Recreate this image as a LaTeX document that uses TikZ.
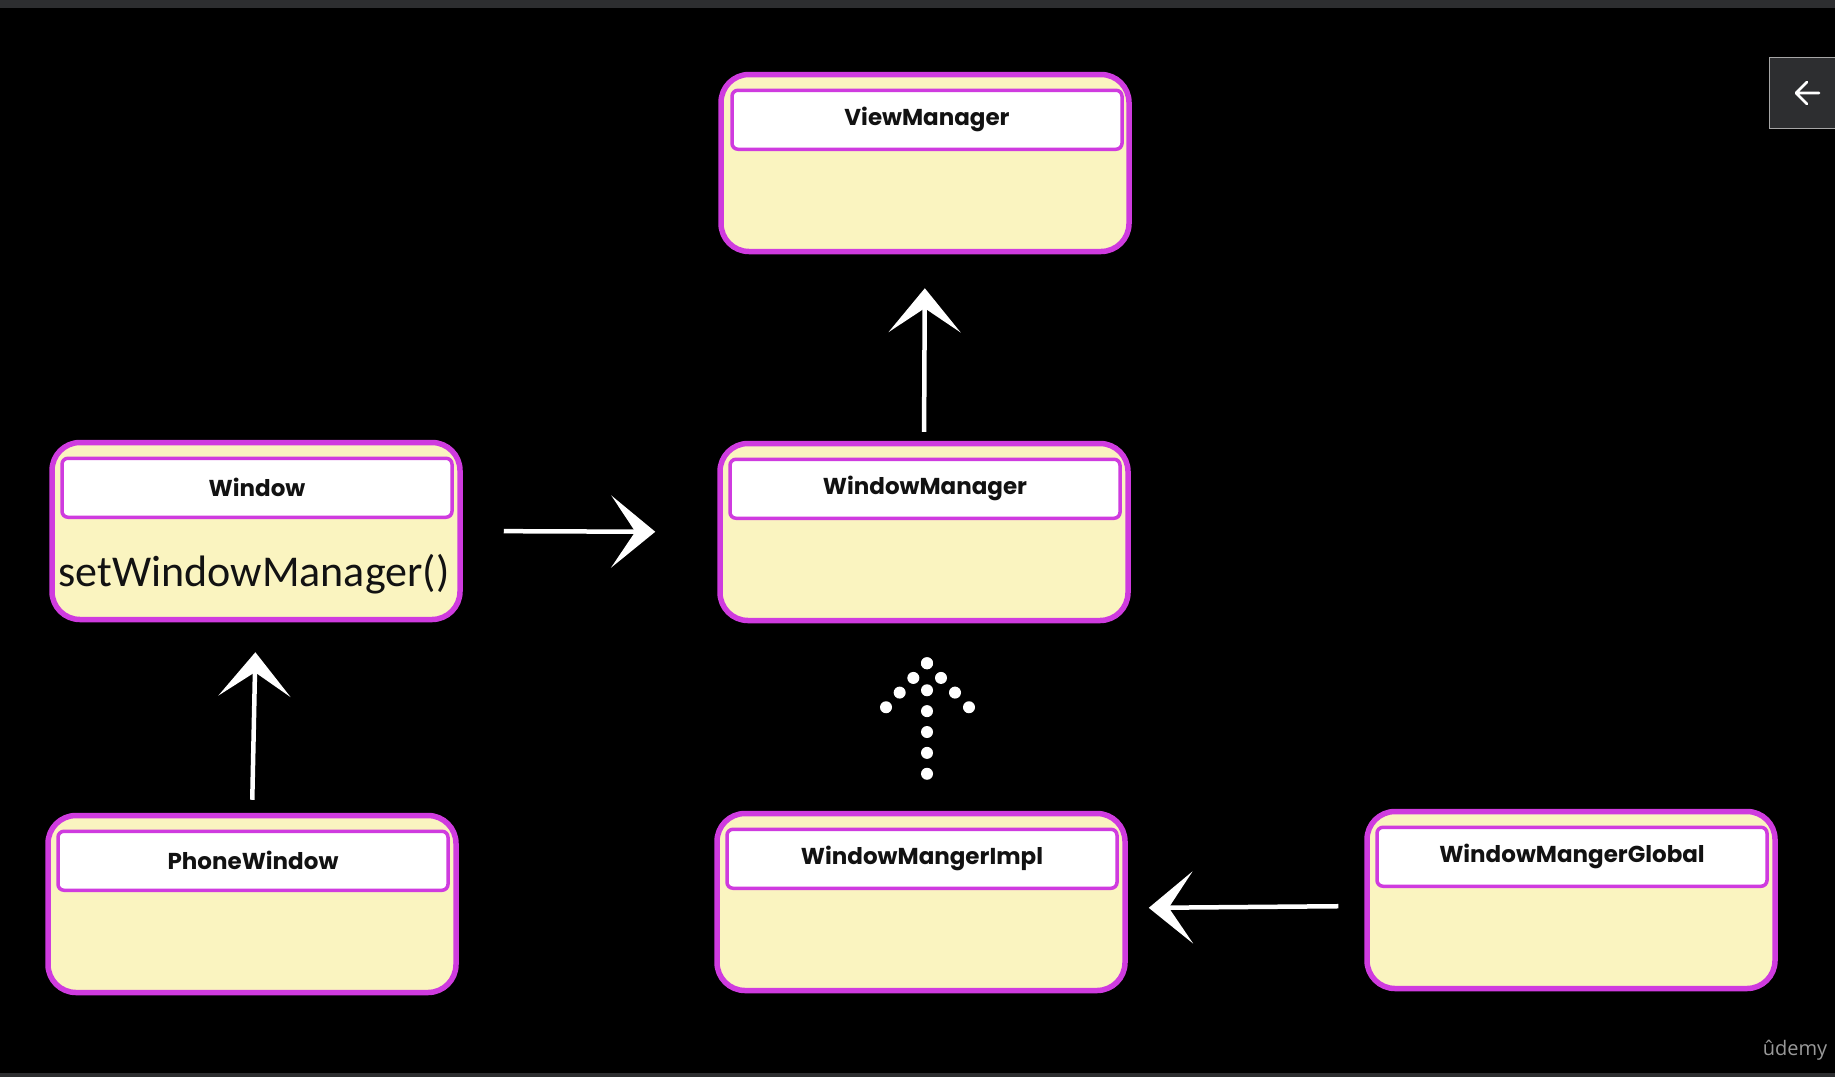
\documentclass[tikz,border=0pt]{standalone}
\usepackage{fontspec}
\setmainfont{Carlito}
\newfontfamily\hfont{Poppins}
\newfontfamily\ufont{Open Sans}
\usetikzlibrary{arrows.meta,calc,decorations.markings}
\definecolor{mag}{HTML}{CF3BDF}
\definecolor{cream}{HTML}{FAF4C0}
\definecolor{barc}{HTML}{2D2E30}
\tikzset{
  box/.style={draw=mag, fill=cream, line width=5.5pt, rounded corners=28pt,
    minimum width=408pt, minimum height=177pt, inner sep=0pt},
  head/.style={draw=mag, fill=white, line width=3.5pt, rounded corners=6pt,
    minimum width=390pt, minimum height=59pt, inner sep=0pt, text=black!93,
    font=\hfont\bfseries\fontsize{23}{27}\selectfont},
  arr/.style={white, line width=4.5pt, -{Stealth[length=44pt,width=72pt,inset=24pt]}},
  dotmarks/.style={decoration={markings,
      mark=at position 0 with {\fill[white] (0,0) circle (6pt);},
      mark=at position 0.25 with {\fill[white] (0,0) circle (6pt);},
      mark=at position 0.5 with {\fill[white] (0,0) circle (6pt);},
      mark=at position 0.75 with {\fill[white] (0,0) circle (6pt);},
      mark=at position 1 with {\fill[white] (0,0) circle (6pt);}}, decorate},
  wingmarks/.style={decoration={markings,
      mark=at position 0 with {\fill[white] (0,0) circle (6pt);},
      mark=at position 0.3333 with {\fill[white] (0,0) circle (6pt);},
      mark=at position 0.6667 with {\fill[white] (0,0) circle (6pt);},
      mark=at position 1 with {\fill[white] (0,0) circle (6pt);}}, decorate},
}
\begin{document}
\begin{tikzpicture}[x=1pt,y=-1pt]
\fill[black] (0,0) rectangle (1835,1077);
\useasboundingbox (0,0) rectangle (1835,1077);
\fill[barc] (0,0) rectangle (1835,8);
\fill[barc] (0,1073) rectangle (1835,1077);

% boxes
\node[box] (vm) at (925,163) {};
\node[head] (vmh) at ($(vm.north)+(2,48)$) {ViewManager};

\node[box] (win) at (256,531) {};
\node[head] (winh) at ($(win.north)+(1,48)$) {Window};
\node[text=black!93, font=\fontsize{44}{50}\selectfont] (winm) at (254,574) {setWindowManager()};

\node[box] (wm) at (924,532) {};
\node[head] (wmh) at ($(wm.north)+(1,48)$) {WindowManager};

\node[box] (pw) at (252,904) {};
\node[head] (pwh) at ($(pw.north)+(1,48)$) {PhoneWindow};

\node[box] (impl) at (921,902) {};
\node[head] (implh) at ($(impl.north)+(1,48)$) {WindowMangerImpl};

\node[box] (glob) at (1571,900) {};
\node[head] (globh) at ($(glob.north)+(1,48)$) {WindowMangerGlobal};

% solid arrows
\draw[arr, shorten <=9pt, shorten >=34pt] (wm.north) -- (vm.south);
\draw[arr, shorten <=41pt, shorten >=62pt] (win.east) -- (wm.west);
\draw[arr, shorten <=13pt, shorten >=30pt] (pw.north) -- (win.south);
\draw[arr, shorten <=26pt, shorten >=21pt] ($(glob.west)+(0,6)$) -- ($(impl.east)+(0,6)$);

% dotted arrow
\coordinate (dtip) at ($(wm.south)+(3,40)$);
\path[dotmarks] ($(impl.north)+(6,-37)$) -- ($(wm.south)+(3,67)$);
\path[wingmarks] (dtip) -- ++(-41,44);
\path[wingmarks] (dtip) -- ++(42,44);

% back button
\draw[fill=barc, draw=gray!70, line width=1pt] (1769,57) rectangle (1840,128);
\draw[white, line width=2.6pt, line cap=round, line join=round]
  (1819,93) -- (1797,93) (1807,82) -- (1796,93) -- (1807,104);

% logo
\node[text=gray!80, font=\ufont\fontsize{20}{24}\selectfont] (logo) at (1795,1050) {ûdemy};
\end{tikzpicture}
\end{document}
